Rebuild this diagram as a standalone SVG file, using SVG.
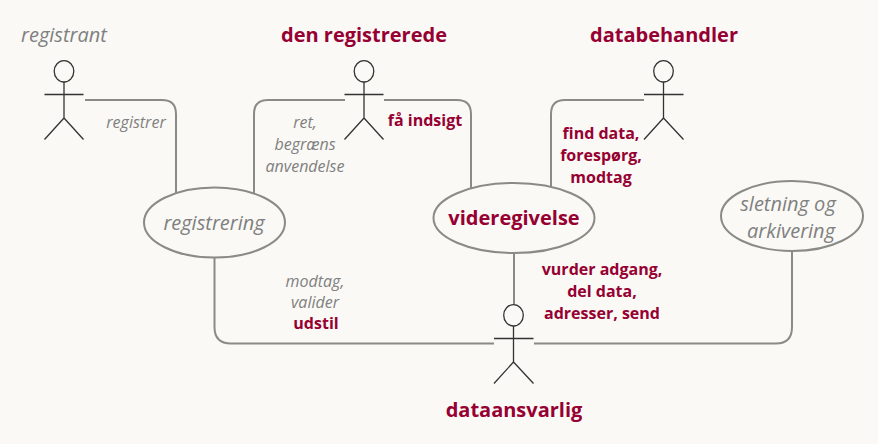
<svg xmlns="http://www.w3.org/2000/svg" width="878" height="444" viewBox="0 0 878 444">
<style>
.bg{fill:#faf9f5}
.c{fill:none;stroke:#8a8a86;stroke-width:2}
.a{fill:none;stroke:#333;stroke-width:1.3}
.h{fill:#faf9f5;stroke:#333;stroke-width:1.3}
.e{fill:#faf9f5;stroke:#8a8a86;stroke-width:2}
text{font-family:"Open Sans",sans-serif;text-anchor:middle}
.g{fill:#808080;font-style:italic;font-weight:400;font-size:16px}
.r{fill:#960032;font-weight:700;font-size:16px}
.R{fill:#960032;font-weight:700;font-size:20px}
.G{fill:#808080;font-style:italic;font-weight:400;font-size:20px}
</style>
<rect class="bg" width="878" height="444"/>
<g id="connectors">
<path class="c" d="M85 100H162Q176 100 176 114V194"/>
<path class="c" d="M345 100H268Q254 100 254 114V194"/>
<path class="c" d="M384 100H457Q471 100 471 114V188"/>
<path class="c" d="M644 100H565Q551 100 551 114V188"/>
<path class="c" d="M214.500 258V327Q214.500 343.500 231 343.500H494"/>
<path class="c" d="M514 253V304"/>
<path class="c" d="M534 343.500H776Q792 343.500 792 327V251"/>
</g>
<g id="registrant"><text class="G" x="64" y="42">registrant</text><ellipse class="h" cx="64" cy="71.300" rx="9.800" ry="10.700"/><path class="a" d="M64 82V118M44.500 94.500H83.500M64 118L44.500 139.500M64 118L83.500 139.500"/></g>
<g id="den-registrerede"><text class="R" x="364" y="42">den registrerede</text><ellipse class="h" cx="364" cy="71.300" rx="9.800" ry="10.700"/><path class="a" d="M364 82V118M344.500 94.500H383.500M364 118L344.500 139.500M364 118L383.500 139.500"/></g>
<g id="databehandler"><text class="R" x="664" y="42">databehandler</text><ellipse class="h" cx="663.500" cy="71.300" rx="9.800" ry="10.700"/><path class="a" d="M663.500 82V118M644 94.500H683.500M663.500 118L644 139.500M663.500 118L683.500 139.500"/></g>
<g id="dataansvarlig"><ellipse class="h" cx="513.500" cy="315.300" rx="9.800" ry="10.700"/><path class="a" d="M513.500 326V362M494 338.500H533.500M513.500 362L494 383.500M513.500 362L533.500 383.500"/><text class="R" x="514" y="417">dataansvarlig</text></g>
<g id="registrering"><ellipse class="e" cx="214.500" cy="222.500" rx="70.500" ry="35"/><text class="G" x="214" y="230">registrering</text></g>
<g id="videregivelse"><ellipse class="e" cx="514" cy="218" rx="80.500" ry="35"/><text class="R" x="514" y="225">videregivelse</text></g>
<g id="sletning"><ellipse class="e" cx="792" cy="216" rx="71" ry="35"/><text class="G" x="788" y="211">sletning og</text><text class="G" x="791" y="238">arkivering</text></g>
<g id="labels">
<text class="g" x="136" y="128">registrer</text>
<text class="g" x="305" y="128">ret,</text><text class="g" x="305" y="150">begræns</text><text class="g" x="305" y="172">anvendelse</text>
<text class="r" x="425" y="126">få indsigt</text>
<text class="r" x="601" y="139">find data,</text><text class="r" x="601" y="161">forespørg,</text><text class="r" x="601" y="183">modtag</text>
<text class="r" x="602" y="275">vurder adgang,</text><text class="r" x="602" y="297">del data,</text><text class="r" x="602" y="319">adresser, send</text>
<text class="g" x="315" y="287">modtag,</text><text class="g" x="315" y="308">valider</text><text class="r" x="316" y="329">udstil</text>
</g>
</svg>
